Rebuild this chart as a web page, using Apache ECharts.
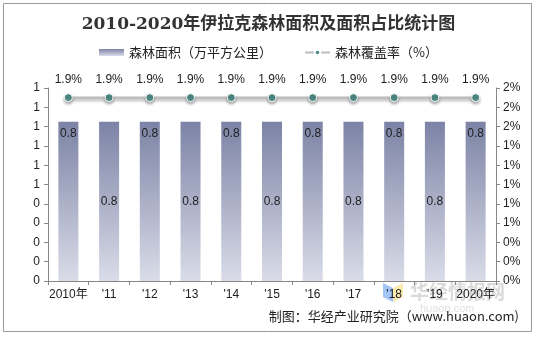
<!DOCTYPE html>
<html><head><meta charset="utf-8">
<script src="https://cdn.jsdelivr.net/npm/echarts@6/dist/echarts.min.js"></script>
<style>html,body{margin:0;padding:0;background:#fff}#c{width:537px;height:337px}</style>
</head><body><div id="c"></div>
<script>
const categories = ['2010年',"'11","'12","'13","'14","'15","'16","'17","'18","'19",'2020年'];
const forestArea = [0.825,0.825,0.825,0.825,0.825,0.825,0.825,0.825,0.825,0.825,0.825];
const coverage = [1.9,1.9,1.9,1.9,1.9,1.9,1.9,1.9,1.9,1.9,1.9];
const titleText = '2010-2020年伊拉克森林面积及面积占比统计图';
const barName = '森林面积（万平方公里）';
const lineName = '森林覆盖率（%）';
const sourceText = '制图：华经产业研究院（www.huaon.com)';

const chart = echarts.init(document.getElementById('c'), null, {renderer:'canvas'});
const font = '"Liberation Sans", "Noto Sans CJK SC", sans-serif';
const cjk = '"Noto Sans CJK SC", sans-serif';
const barData = forestArea.map((v,i)=>({
  value: v,
  label: {position: i%2===0 ? 'insideTop' : 'inside', distance: 6}
}));
chart.setOption({
  animation:false,
  textStyle:{fontFamily:font},
  title:{text:titleText,left:'center',top:11,textStyle:{fontSize:17,fontWeight:'bold',color:'#333',fontFamily:'"DejaVu Serif","Noto Sans CJK SC",serif'}},
  legend:{top:41,left:'center',itemGap:32,itemWidth:25,itemHeight:7,textStyle:{fontSize:13,color:'#222',fontFamily:cjk},
    data:[{name:barName,icon:'rect'},{name:lineName}]},
  grid:{left:48,right:41,top:88,bottom:56},
  xAxis:{type:'category',data:categories,
    axisLine:{lineStyle:{color:'#868686'}},
    axisTick:{show:true,length:4,lineStyle:{color:'#868686'}},
    axisLabel:{color:'#222',fontSize:12,margin:8,interval:0}},
  yAxis:[
    {type:'value',min:0,max:1,interval:0.1,splitLine:{show:false},
     axisLine:{show:true,lineStyle:{color:'#868686'}},
     axisTick:{show:true,length:4,lineStyle:{color:'#868686'}},
     axisLabel:{color:'#222',fontSize:12,margin:8,formatter:v=>String(Math.round(v))}},
    {type:'value',min:0,max:2,interval:0.2,splitLine:{show:false},
     axisLine:{show:true,lineStyle:{color:'#868686'}},
     axisTick:{show:true,length:4,lineStyle:{color:'#868686'}},
     axisLabel:{color:'#222',fontSize:12,margin:7,formatter:v=>Math.round(v)+'%'}}
  ],
  series:[
    {name:barName,type:'bar',yAxisIndex:0,data:barData,barWidth:20,
     itemStyle:{color:new echarts.graphic.LinearGradient(0,0,0,1,[{offset:0,color:'#7c83a6'},{offset:1,color:'#dadce8'}])},
     label:{show:true,color:'#222',fontSize:12,formatter:p=>p.value.toFixed(1)}},
    {name:lineName,type:'line',yAxisIndex:1,data:coverage,symbol:'circle',symbolSize:8,
     lineStyle:{color:'#bdbdbd',width:2.5,shadowColor:'rgba(0,0,0,0.3)',shadowBlur:3,shadowOffsetY:2},
     itemStyle:{color:'#4f8c87',borderColor:'#fff',borderWidth:1,shadowColor:'rgba(0,0,0,0.3)',shadowBlur:3,shadowOffsetY:2},
     label:{show:true,position:'top',distance:7,color:'#222',fontSize:12,formatter:p=>p.value.toFixed(1)+'%'}}
  ],
  graphic:[
    {type:'rect',shape:{x:3.5,y:3.5,width:528,height:328},style:{fill:'none',stroke:'#9a9a9a',lineWidth:1},silent:true},
    {type:'text',right:18,top:310,style:{text:sourceText,font:'13px '+cjk,fill:'#222'}},
    {type:'polygon',shape:{points:[[383,283],[393,288],[393,302],[383,297]]},style:{fill:'rgba(90,150,240,0.55)'},silent:true},
    {type:'polygon',shape:{points:[[393,288],[403,283],[403,297],[393,302]]},style:{fill:'rgba(250,220,120,0.6)'},silent:true},
    {type:'text',left:410,top:282,style:{text:'华经情报网',font:'bold 19px '+cjk,fill:'rgba(150,150,150,0.35)'},silent:true},
    {type:'text',left:420,top:303,style:{text:'huaon.com',font:'11px '+font,fill:'rgba(150,150,150,0.3)'},silent:true}
  ]
});
</script></body></html>
